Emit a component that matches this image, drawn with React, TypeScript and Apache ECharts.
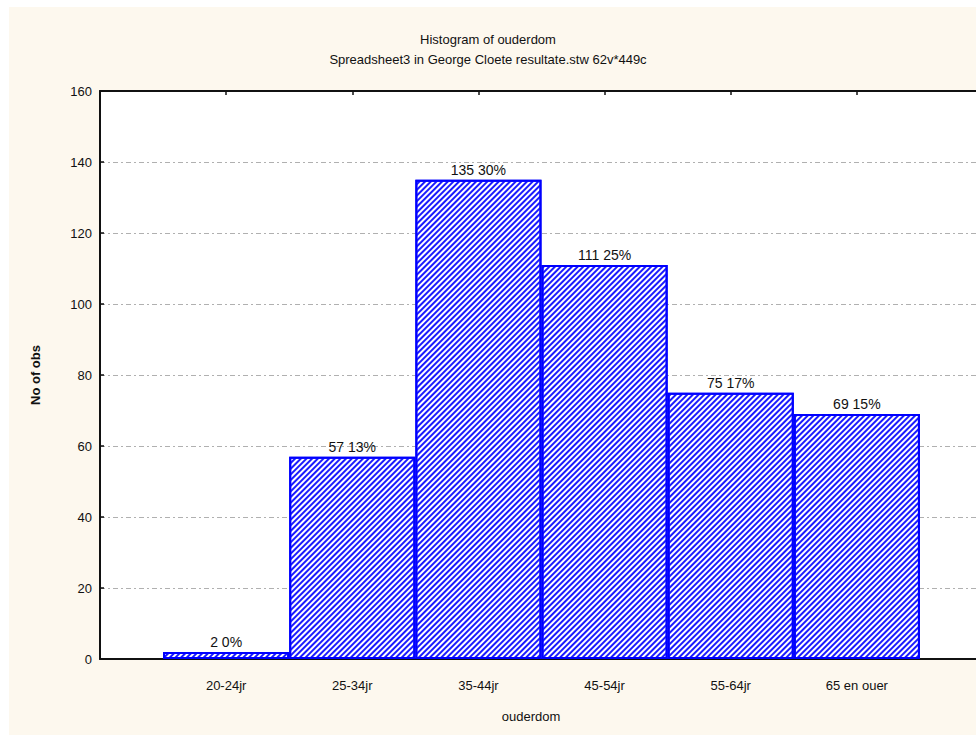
import React, { useEffect, useRef } from "react";
import * as echarts from "echarts";

const categories = ["", "20-24jr", "25-34jr", "35-44jr", "45-54jr", "55-64jr", "65 en ouer", ""];
const counts: (number | string)[] = ["-", 2, 57, 135, 111, 75, 69, "-"];
const percents = ["", "0%", "13%", "30%", "25%", "17%", "15%", ""];
const yTicks = { min: 0, max: 160, interval: 20 };
const titleText = "Histogram of ouderdom";
const subtitleText = "Spreadsheet3 in George Cloete resultate.stw 62v*449c";
const xName = "ouderdom";
const yName = "No of obs";

const FONT = "Arial, 'Liberation Sans', sans-serif";

export default function App() {
  const ref = useRef<HTMLDivElement>(null);
  useEffect(() => {
    if (!ref.current) return;
    const chart = echarts.init(ref.current, undefined, { renderer: "svg" });
    const tickShow = (i: number) => i > 0 && i < categories.length - 1;
    chart.setOption({
      animation: false,
      backgroundColor: "#ffffff",
      graphic: [
        {
          type: "rect",
          z: -10,
          silent: true,
          shape: { x: 9, y: 7, width: 980, height: 728 },
          style: { fill: "#fdf8ee" },
        },
        {
          type: "text",
          x: 531,
          y: 716,
          style: { text: xName, font: `13px ${FONT}`, fill: "#111", align: "center", verticalAlign: "middle" },
        },
      ],
      title: {
        text: titleText,
        subtext: subtitleText,
        left: "center",
        top: 28,
        itemGap: 7,
        textStyle: { fontFamily: FONT, fontSize: 13, fontWeight: "normal", color: "#111" },
        subtextStyle: { fontFamily: FONT, fontSize: 13, color: "#111" },
      },
      grid: {
        left: 100,
        top: 91,
        right: -7,
        bottom: 78,
        outerBoundsMode: "none",
        containLabel: false,
        show: true,
        backgroundColor: "#ffffff",
        borderWidth: 0,
      },
      xAxis: [
        {
          type: "category",
          data: categories,
          boundaryGap: false,
          position: "bottom",
          axisLine: { show: true, lineStyle: { color: "#111", width: 2 } },
          axisTick: { show: true, inside: true, length: 4, interval: (i: number) => tickShow(i), lineStyle: { color: "#111", width: 1.5 } },
          axisLabel: { interval: 0, margin: 20, fontFamily: FONT, fontSize: 13, color: "#111" },
          splitLine: { show: false },
        },
        {
          type: "category",
          data: categories,
          boundaryGap: false,
          position: "top",
          axisLine: { show: true, lineStyle: { color: "#111", width: 2 } },
          axisTick: { show: true, inside: true, length: 4, interval: (i: number) => tickShow(i), lineStyle: { color: "#111", width: 1.5 } },
          axisLabel: { show: false },
          splitLine: { show: false },
        },
      ],
      yAxis: {
        type: "value",
        min: yTicks.min,
        max: yTicks.max,
        interval: yTicks.interval,
        name: yName,
        nameLocation: "middle",
        nameGap: 58,
        nameTextStyle: { fontFamily: FONT, fontSize: 13, fontWeight: "bold", color: "#111" },
        axisLine: { show: true, lineStyle: { color: "#111", width: 2 } },
        axisTick: { show: true, inside: true, length: 4, lineStyle: { color: "#111", width: 1.5 } },
        axisLabel: { margin: 8, fontFamily: FONT, fontSize: 13, color: "#111" },
        splitLine: { show: true, lineStyle: { color: "#b0b0b0", width: 1, type: [5, 3, 2, 3] } },
      },
      series: [
        {
          type: "bar",
          xAxisIndex: 0,
          data: counts,
          barWidth: "100%",
          itemStyle: {
            color: "#ffffff",
            borderColor: "#0000ff",
            borderWidth: 2,
            decal: {
              symbol: "rect",
              symbolSize: 1,
              dashArrayX: [1, 0],
              dashArrayY: [1.2, 1.9],
              rotation: -Math.PI / 4,
              color: "#1a1aff",
              backgroundColor: "#ffffff",
            },
          },
          label: {
            show: true,
            position: "top",
            distance: 3,
            fontFamily: FONT,
            fontSize: 14,
            color: "#111",
            formatter: (p: any) => `${p.value} ${percents[p.dataIndex]}`,
          },
        },
      ],
    });
    return () => chart.dispose();
  }, []);
  return <div ref={ref} style={{ position: "fixed", left: 0, top: 0, width: 976, height: 737 }} />;
}
